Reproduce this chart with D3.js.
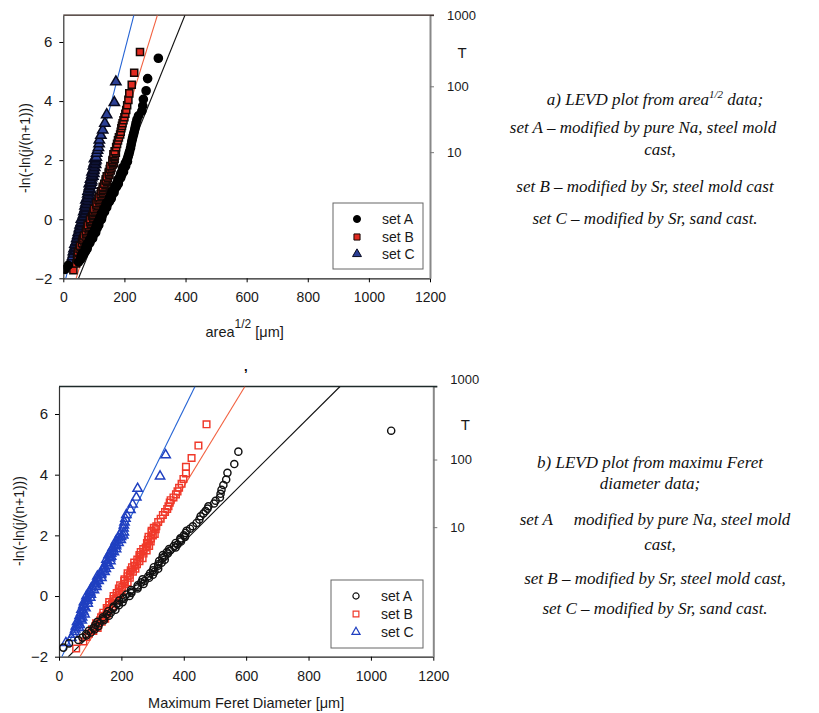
<!DOCTYPE html>
<html>
<head>
<meta charset="utf-8">
<script src="https://cdnjs.cloudflare.com/ajax/libs/d3/7.8.5/d3.min.js"></script>
<style>
body { margin: 0; background: #fff; }
</style>
</head>
<body>
<div id="chart-div"></div>
<script>
// y = -ln(-ln(j/(n+1))) positions, shared by both panels
var rankA = [-1.70,-1.56,-1.45,-1.37,-1.30,
    -1.25,-1.20,-1.15,-1.10,-1.05,-1.00,-0.95,-0.90,-0.85,-0.80,-0.75,-0.70,-0.65,-0.60,-0.55,-0.50,-0.45,-0.40,-0.35,-0.30,-0.25,-0.20,-0.15,-0.10,-0.05,
    0.00,0.05,0.10,0.15,0.20,0.25,0.30,0.35,0.40,0.45,0.50,0.55,0.60,0.65,0.70,0.75,0.80,0.85,0.90,0.95,
    1.00,1.05,1.10,1.15,1.20,1.25,1.30,1.35,1.40,1.45,1.50,1.55,1.60,1.65,1.70,1.75,1.80,1.85,1.90,1.95,2.00,
    2.08,2.15,2.22,2.30,2.41,2.52,2.63,2.72,2.80,2.88,2.96,3.05,3.14,3.25,3.37,3.50,3.66,3.84,4.06,4.35,4.76,5.45];
var areaA = [6,16,50,56,60,
    59,66,63,72,71,78,74,80,77,87,87,86,96,92,98,94,106,102,103,111,108,116,110,117,116,
    125,120,127,126,125,135,134,133,142,139,144,141,151,150,157,152,159,157,166,160,
    167,168,174,171,180,177,181,179,188,186,191,188,197,193,198,195,204,203,203,210,208,
    211,213,215,217,220,222,224,226,228,230,232,234,236,238,241,246,257,260,262,271,276,311];
var feretA = [14,32,62,75,88,
    87,102,95,114,111,126,117,130,123,144,143,141,160,153,166,158,181,174,175,192,187,204,193,208,207,
    226,216,232,232,231,252,252,252,271,264,275,268,289,286,301,292,306,301,318,304,
    318,318,329,321,339,331,338,333,349,346,356,353,374,368,380,374,391,389,389,404,400,
    406,409,420,429,441,450,454,463,470,476,479,497,502,516,518,521,527,536,540,562,575,1065];

var rankB = [-1.73,-1.50,-1.35,-1.24,
    -1.15,-1.10,-1.05,-1.00,-0.95,-0.90,-0.85,-0.80,-0.75,-0.70,-0.65,-0.60,-0.55,-0.50,-0.45,-0.40,-0.35,-0.30,-0.25,-0.20,-0.15,-0.10,-0.05,
    0.00,0.05,0.10,0.15,0.20,0.25,0.30,0.35,0.40,0.45,0.50,0.55,0.60,0.65,0.70,0.75,0.80,0.85,0.90,0.95,
    1.00,1.05,1.10,1.15,1.20,1.25,1.30,1.35,1.40,1.45,1.50,1.55,1.60,1.65,1.70,1.75,1.80,1.85,1.90,1.95,
    2.00,2.05,2.10,2.15,2.20,2.25,2.30,
    2.44,2.55,2.67,2.77,2.87,2.96,3.08,3.16,3.25,3.35,3.45,3.57,3.70,3.86,4.04,4.26,4.55,4.96,5.66];
var areaB = [33,42,45,47,
    51,48,57,53,58,55,64,61,69,63,66,73,68,75,75,74,83,79,84,80,90,87,92,
    88,98,94,98,102,98,104,101,109,114,108,109,118,115,119,116,125,122,129,124,
    129,133,129,138,134,143,139,139,146,142,151,149,149,156,152,158,154,162,166,161,
    161,168,165,169,164,172,168,
    173,176,179,182,186,188,190,192,194,197,200,203,206,209,213,216,224,232,251];
var feretB = [55,78,88,96,
    110,106,124,116,126,119,137,132,148,135,140,153,142,157,156,153,170,161,170,161,180,175,184,
    175,194,185,192,201,192,203,196,211,220,209,210,227,220,227,220,237,230,245,234,
    243,250,241,258,251,268,259,258,271,262,281,270,278,289,283,282,294,285,295,287,
    301,307,297,297,310,304,312,
    318,326,333,340,347,351,355,358,367,375,380,385,393,399,407,407,425,447,473];

var rankC = [-1.54,-1.38,-1.27,-1.18,
    -1.10,-1.05,-1.00,-0.95,-0.90,-0.85,-0.80,-0.75,-0.70,-0.65,-0.60,-0.55,-0.50,-0.45,-0.40,-0.35,-0.30,-0.25,-0.20,-0.15,-0.10,-0.05,
    0.00,0.05,0.10,0.15,0.20,0.25,0.30,0.35,0.40,0.45,0.50,0.55,0.60,0.65,0.70,0.75,0.80,0.85,0.90,0.95,
    1.00,1.05,1.10,1.15,1.20,1.25,1.30,1.35,1.40,1.45,1.50,1.55,1.60,1.65,1.70,1.75,1.80,1.85,1.90,1.95,2.00,2.05,2.10,
    2.23,2.33,2.43,2.55,2.68,2.84,3.02,3.25,3.54,3.95,4.65];
var areaC = [20,27,30,33,
    33,40,35,41,40,38,46,43,47,44,52,47,51,49,56,53,53,61,55,60,59,65,
    59,67,66,66,72,67,75,71,74,71,77,74,81,74,80,79,84,80,85,81,
    89,85,85,91,85,91,93,89,93,97,93,100,94,100,99,103,98,106,101,105,107,102,108,
    109,112,115,117,118,123,129,136,142,167,172];
var feretC = [22,40,46,50,
    52,64,54,66,64,58,73,67,74,66,82,71,78,72,85,79,78,92,80,91,90,100,
    88,102,100,99,112,103,120,113,120,115,127,122,136,123,135,135,146,139,150,143,
    160,153,153,165,152,164,167,159,167,176,168,183,172,183,182,191,182,198,190,199,206,196,208,
    207,208,210,213,216,229,236,248,252,324,342];

// fitted lines, [x, y] at both ends
var fitAreaA  = [[50,-2],[398,6.907]];
var fitAreaB  = [[42,-2],[308,6.907]];
var fitAreaC  = [[8,-2],[231,6.907]];
var fitFeretA = [[30,-2],[901,6.907]];
var fitFeretB = [[67,-2],[596,6.907]];
var fitFeretC = [[9,-2],[436,6.907]];

var setNames = ["set A", "set B", "set C"];
var xTicks = [0, 200, 400, 600, 800, 1000, 1200];
var yTicks = [-2, 0, 2, 4, 6];
var tLabels = ["10", "100", "1000"];
var tValues = [2.27, 4.5, 6.907];
var yMin = -2, yMax = 6.907;

var width = 819, height = 713;
var svg = d3.select('#chart-div')
            .append('svg')
            .attr('width', width)
            .attr('height', height)
            .attr('viewBox', [0, 0, width, height]);

var font = 'Arial, "Liberation Sans", sans-serif';

function drawPanel(p) {
    var x = d3.scaleLinear().domain([0, 1200]).range([p.left, p.right]);
    var y = d3.scaleLinear().domain([yMin, yMax]).range([p.bottom, p.top]);

    svg.append('clipPath').attr('id', 'clip-' + p.id)
        .append('rect')
        .attr('x', p.left).attr('y', p.top)
        .attr('width', p.right - p.left).attr('height', p.bottom - p.top);

    var g = svg.append('g');

    // x axis
    var xAxis = g.append('g')
        .attr('transform', 'translate(0,' + p.bottom + ')')
        .call(d3.axisBottom(x).tickValues(xTicks).tickFormat(d3.format('d'))
              .tickSize(4).tickPadding(10).tickSizeOuter(0));
    xAxis.selectAll('text').attr('font-size', 14).attr('font-family', font).attr('fill', '#1a1a1a');

    // y axis
    var yAxis = g.append('g')
        .attr('transform', 'translate(' + p.left + ',0)')
        .call(d3.axisLeft(y).tickValues(yTicks).tickSize(4).tickPadding(7).tickSizeOuter(0));
    yAxis.selectAll('text').attr('font-size', 15).attr('font-family', font).attr('fill', '#1a1a1a');

    // right T axis
    var tAxis = g.append('g')
        .attr('transform', 'translate(' + p.right + ',0)')
        .call(d3.axisRight(y).tickValues(tValues).tickSize(4).tickPadding(13).tickSizeOuter(0)
              .tickFormat(function(d, i) { return tLabels[i]; }));
    tAxis.selectAll('text').attr('font-size', 13).attr('font-family', font).attr('fill', '#1a1a1a');
    tAxis.select('.domain').attr('stroke', '#888').attr('stroke-width', 2);
    tAxis.selectAll('.tick line').attr('stroke', '#777');
    tAxis.selectAll('.tick').filter(function(d) { return d === yMax; })
        .select('text').attr('dy', p.topLabelDy);

    g.append('text')
        .attr('x', p.right + 32)
        .attr('y', y(5.65))
        .attr('dy', '.35em')
        .attr('text-anchor', 'middle')
        .attr('font-size', 15)
        .attr('font-family', font)
        .attr('fill', '#1a1a1a')
        .text('T');

    xAxis.select('.domain').attr('stroke', '#222').attr('stroke-width', 1.2);
    yAxis.select('.domain').attr('stroke', '#333').attr('stroke-width', 1.2);

    // top border
    g.append('line')
        .attr('x1', p.left).attr('x2', p.right + 4)
        .attr('y1', y(yMax)).attr('y2', y(yMax))
        .attr('stroke', p.topColor).attr('stroke-width', 1.3);

    // axis titles
    g.append('text')
        .attr('transform', 'translate(' + p.yTitleX + ',' + p.yTitleY + ') rotate(-90)')
        .attr('text-anchor', 'middle')
        .attr('font-size', 14)
        .attr('font-family', font)
        .attr('fill', '#1a1a1a')
        .text('-ln(-ln(j/(n+1)))');

    var xt = g.append('text')
        .attr('x', (p.left + p.right) / 2 + p.xTitleShift)
        .attr('y', p.xTitleY)
        .attr('text-anchor', 'middle')
        .attr('font-size', 14.5)
        .attr('font-family', font)
        .attr('fill', '#1a1a1a');
    p.xTitle(xt);

    // plot content
    var plot = g.append('g').attr('clip-path', 'url(#clip-' + p.id + ')');

    var line = d3.line()
        .x(function(d) { return x(d[0]); })
        .y(function(d) { return y(d[1]); });

    p.fits.forEach(function(f, i) {
        plot.append('path')
            .datum(f)
            .attr('d', line)
            .attr('fill', 'none')
            .attr('stroke', p.lineColors[i])
            .attr('stroke-width', 1.1);
    });

    // series drawn C, B, A so A sits on top
    [2, 1, 0].forEach(function(i) {
        var s = p.series[i];
        if (s.ranks.length !== s.xs.length) console.warn('length mismatch', p.id, i, s.ranks.length, s.xs.length);
        var pts = s.ranks.map(function(r, k) { return { x: s.xs[k], y: r }; });
        plot.selectAll('.pt-' + p.id + i)
            .data(pts)
            .enter().append('path')
            .attr('class', 'pt-' + p.id + i)
            .attr('transform', function(d) { return 'translate(' + x(d.x) + ',' + y(d.y) + ')'; })
            .attr('d', d3.symbol().type(p.symbols[i]).size(p.sizes[i]))
            .attr('fill', p.fills[i])
            .attr('stroke', p.strokes[i])
            .attr('stroke-width', p.strokeWidth);
    });

    // legend
    var lg = g.append('g');
    lg.append('rect')
        .attr('x', p.legend.x).attr('y', p.legend.y)
        .attr('width', p.legend.w).attr('height', p.legend.h)
        .attr('fill', '#fff')
        .attr('stroke', '#666')
        .attr('stroke-width', 1);
    lg.selectAll('path.lgm')
        .data(setNames)
        .enter().append('path')
        .attr('class', 'lgm')
        .attr('transform', function(d, i) { return 'translate(' + p.legend.mx + ',' + p.legend.rows[i] + ')'; })
        .attr('d', function(d, i) { return d3.symbol().type(p.symbols[i]).size(p.sizes[i] * 0.75)(); })
        .attr('fill', function(d, i) { return p.fills[i]; })
        .attr('stroke', function(d, i) { return p.strokes[i]; })
        .attr('stroke-width', p.legendStroke);
    lg.selectAll('text.lgt')
        .data(setNames)
        .enter().append('text')
        .attr('class', 'lgt')
        .attr('x', p.legend.tx)
        .attr('y', function(d, i) { return p.legend.rows[i]; })
        .attr('dy', '.36em')
        .attr('font-size', 14)
        .attr('font-family', font)
        .attr('fill', '#1a1a1a')
        .text(function(d) { return d; });
}

// a) area^1/2
drawPanel({
    id: 'a', left: 63.3, right: 430, top: 15.2, bottom: 278.3,
    topLabelDy: '.32em', topColor: '#2a1a14',
    yTitleX: 30, yTitleY: 148, xTitleY: 337, xTitleShift: -2,
    xTitle: function(t) {
        t.append('tspan').text('area');
        t.append('tspan').attr('dy', -9).attr('font-size', 12).text('1/2');
        t.append('tspan').attr('dy', 9).text(' [μm]');
    },
    series: [
        { ranks: rankA, xs: areaA },
        { ranks: rankB, xs: areaB },
        { ranks: rankC, xs: areaC }
    ],
    fits: [fitAreaA, fitAreaB, fitAreaC],
    lineColors: ['#111', '#f2603f', '#2463d4'],
    symbols: [d3.symbolCircle, d3.symbolSquare, d3.symbolTriangle],
    sizes: [52, 50, 46],
    fills: ['#000', '#e12a20', '#2b3f95'],
    strokes: ['#000', '#160806', '#080a20'],
    strokeWidth: 1.5,
    legendStroke: 1,
    legend: { x: 333, y: 203, w: 90, h: 66, mx: 357, tx: 382, rows: [219, 237, 254] }
});

// b) maximum Feret diameter
drawPanel({
    id: 'b', left: 59, right: 433.3, top: 386.5, bottom: 656.7,
    topLabelDy: '-.2em', topColor: '#1e2a2a',
    yTitleX: 24, yTitleY: 521, xTitleY: 708, xTitleShift: 0,
    xTitle: function(t) { t.text('Maximum Feret Diameter [μm]'); },
    series: [
        { ranks: rankA, xs: feretA },
        { ranks: rankB, xs: feretB },
        { ranks: rankC, xs: feretC }
    ],
    fits: [fitFeretA, fitFeretB, fitFeretC],
    lineColors: ['#111', '#f2603f', '#2463d4'],
    symbols: [d3.symbolCircle, d3.symbolSquare, d3.symbolTriangle],
    sizes: [40, 44, 38],
    fills: ['none', 'none', 'none'],
    strokes: ['#111', '#f0392a', '#1f3fc0'],
    strokeWidth: 1.45,
    legendStroke: 1.2,
    legend: { x: 331, y: 580, w: 92, h: 68, mx: 356, tx: 381, rows: [596, 614, 632] }
});

// stray mark above panel b
svg.append('text')
    .attr('x', 244).attr('y', 371)
    .attr('font-size', 13).attr('font-weight', 'bold')
    .attr('font-family', font)
    .text(',');

// captions on the right
var serif = '"Liberation Serif", "Times New Roman", serif';
var capA = [
    { t: 'a) LEVD plot from area', sup: '1/2', after: ' data;', x: 655, y: 105 },
    { t: 'set A – modified by pure Na, steel mold', x: 643, y: 133 },
    { t: 'cast,', x: 660, y: 155 },
    { t: 'set B – modified by Sr, steel mold cast', x: 645, y: 192 },
    { t: 'set C – modified by Sr, sand cast.', x: 645, y: 224 }
];
var capB = [
    { t: 'b) LEVD plot from maximu Feret', x: 650, y: 468 },
    { t: 'diameter data;', x: 650, y: 489 },
    { t: 'set A     modified by pure Na, steel mold', x: 655, y: 525 },
    { t: 'cast,', x: 660, y: 550 },
    { t: 'set B – modified by Sr, steel mold cast,', x: 655, y: 584 },
    { t: 'set C – modified by Sr, sand cast.', x: 655, y: 614 }
];

svg.selectAll('text.cap')
    .data(capA.concat(capB))
    .enter().append('text')
    .attr('class', 'cap')
    .attr('x', function(d) { return d.x; })
    .attr('y', function(d) { return d.y; })
    .attr('text-anchor', 'middle')
    .attr('font-size', 17)
    .attr('font-style', 'italic')
    .attr('font-family', serif)
    .attr('fill', '#111')
    .style('white-space', 'pre')
    .each(function(d) {
        var t = d3.select(this);
        t.append('tspan').text(d.t);
        if (d.sup) {
            t.append('tspan').attr('dy', -7).attr('font-size', 11).text(d.sup);
            t.append('tspan').attr('dy', 7).text(d.after);
        }
    });
</script>
</body>
</html>
